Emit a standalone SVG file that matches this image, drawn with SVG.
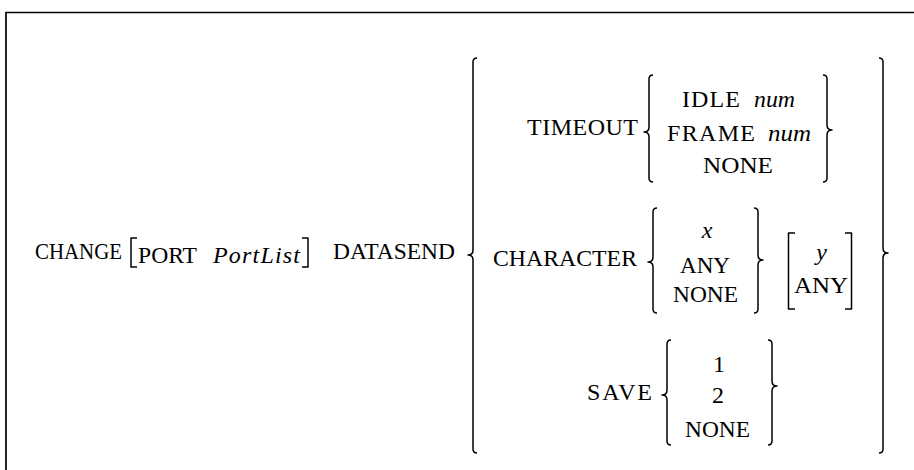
<svg xmlns="http://www.w3.org/2000/svg" width="914" height="470" viewBox="0 0 914 470">
<style>
.t{font-size:24px;fill:#000}
.i{font-style:italic}
.c{text-anchor:middle}
.br{fill:none;stroke:#000;stroke-width:1.5;stroke-linejoin:round}
.fr{fill:none;stroke:#000;stroke-width:1.7}
</style>
<rect width="914" height="470" fill="#fff"/>
<path class="fr" d="M6,470 L6,12.5 L914,12.5"/>
<g font-family="Liberation Serif, Times New Roman, DejaVu Serif, serif">
<g id="change">
<text class="t" x="35" y="259" textLength="87" lengthAdjust="spacingAndGlyphs">CHANGE</text>
</g>
<g id="port">
<path class="br" d="M137,238 L131,238 L131,267 L137,267"/>
<text class="t" x="138" y="263" textLength="59" lengthAdjust="spacingAndGlyphs">PORT</text>
<text class="t i" x="213" y="263" textLength="87" lengthAdjust="spacing">PortList</text>
<path class="br" d="M302,238 L308,238 L308,267 L302,267"/>
</g>
<g id="datasend">
<text class="t" x="333" y="259" textLength="122" lengthAdjust="spacingAndGlyphs">DATASEND</text>
</g>
<g id="options">
<path class="br" d="M477,58 Q473,58 473,62 L473,250 Q473,255 468,255 Q473,255 473,260 L473,449 Q473,453 477,453"/>
<path class="br" d="M879,58 Q883,58 883,62 L883,248 Q883,253 888,253 Q883,253 883,258 L883,449 Q883,453 879,453"/>
</g>
<g id="timeout">
<text class="t" x="527" y="135" textLength="111" lengthAdjust="spacing">TIMEOUT</text>
<path class="br" d="M653,75 Q649,75 649,79 L649,127 Q649,132 644,132 Q649,132 649,137 L649,178 Q649,182 653,182"/>
<text class="t" x="682" y="107" textLength="58" lengthAdjust="spacing">IDLE</text>
<text class="t i" x="754" y="107" textLength="41" lengthAdjust="spacingAndGlyphs">num</text>
<text class="t" x="667" y="141" textLength="88" lengthAdjust="spacing">FRAME</text>
<text class="t i" x="768" y="141" textLength="43" lengthAdjust="spacingAndGlyphs">num</text>
<text class="t" x="703" y="173" textLength="70" lengthAdjust="spacingAndGlyphs">NONE</text>
<path class="br" d="M823,75 Q827,75 827,79 L827,125 Q827,130 832,130 Q827,130 827,135 L827,178 Q827,182 823,182"/>
</g>
<g id="character">
<text class="t" x="493" y="266" textLength="144" lengthAdjust="spacingAndGlyphs">CHARACTER</text>
<path class="br" d="M657,208 Q653,208 653,212 L653,257 Q653,262 648,262 Q653,262 653,267 L653,309 Q653,313 657,313"/>
<text class="t i c" x="707" y="238">x</text>
<text class="t" x="680" y="273" textLength="50" lengthAdjust="spacingAndGlyphs">ANY</text>
<text class="t" x="673" y="302" textLength="65" lengthAdjust="spacingAndGlyphs">NONE</text>
<path class="br" d="M754,208 Q758,208 758,212 L758,255 Q758,260 763,260 Q758,260 758,265 L758,309 Q758,313 754,313"/>
<path class="br" d="M795,233 L788.5,233 L788.5,309 L795,309"/>
<text class="t i c" x="821.5" y="260">y</text>
<text class="t" x="794" y="293" textLength="54" lengthAdjust="spacingAndGlyphs">ANY</text>
<path class="br" d="M845,233 L851.5,233 L851.5,309 L845,309"/>
</g>
<g id="save">
<text class="t" x="587" y="400" textLength="65" lengthAdjust="spacing">SAVE</text>
<path class="br" d="M671,340 Q667,340 667,344 L667,390 Q667,395 662,395 Q667,395 667,400 L667,441 Q667,445 671,445"/>
<text class="t c" x="719" y="372">1</text>
<text class="t c" x="718" y="403">2</text>
<text class="t" x="685" y="437" textLength="65" lengthAdjust="spacingAndGlyphs">NONE</text>
<path class="br" d="M768,340 Q772,340 772,344 L772,381 Q772,386 777,386 Q772,386 772,391 L772,441 Q772,445 768,445"/>
</g>
</g>
</svg>
